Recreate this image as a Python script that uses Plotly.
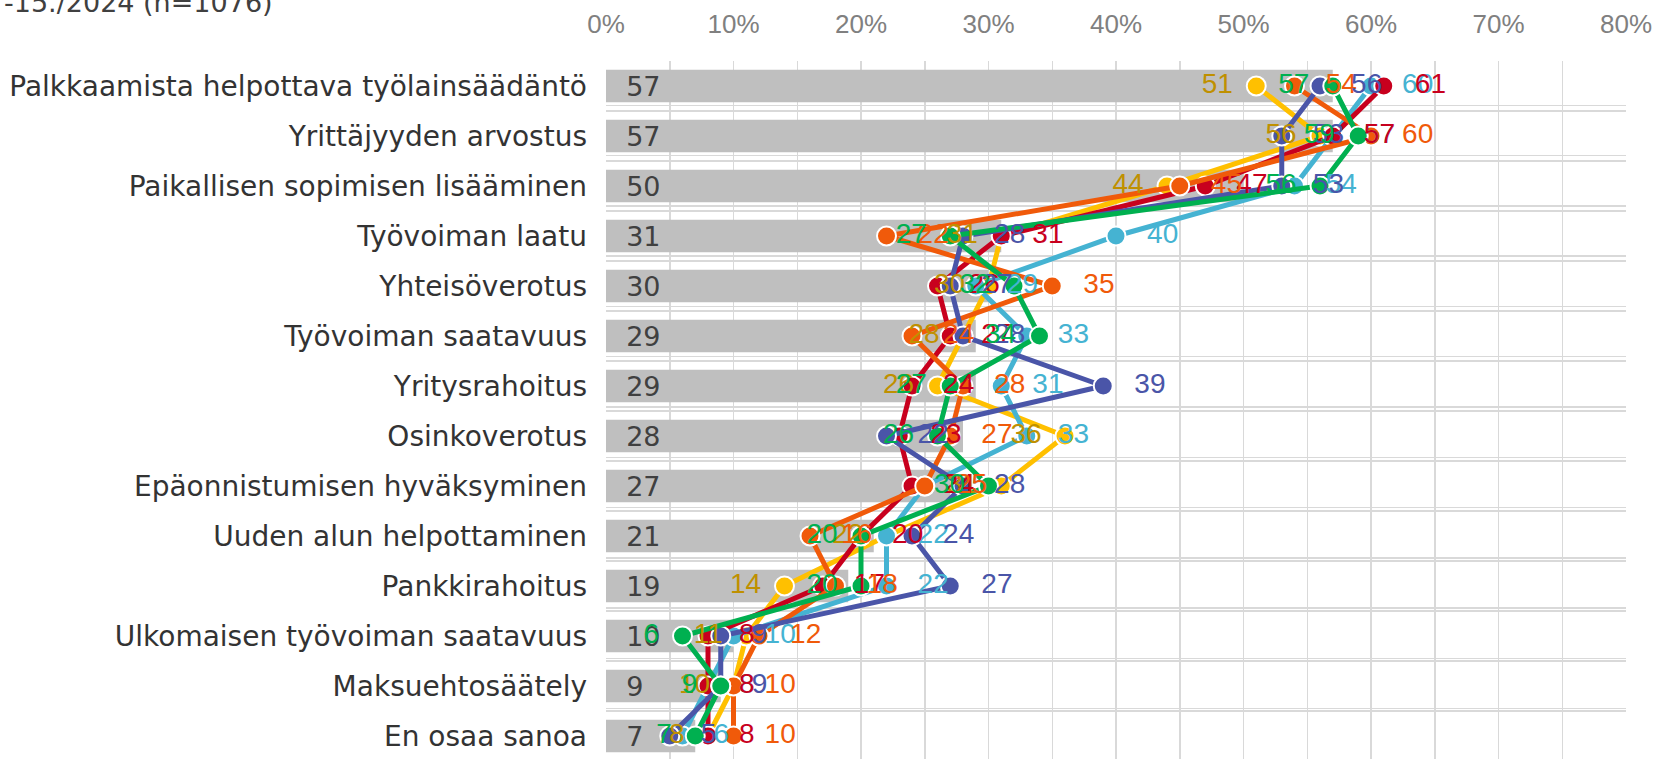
import plotly.graph_objects as go

categories = [
    "Palkkaamista helpottava työlainsäädäntö",
    "Yrittäjyyden arvostus",
    "Paikallisen sopimisen lisääminen",
    "Työvoiman laatu",
    "Yhteisöverotus",
    "Työvoiman saatavuus",
    "Yritysrahoitus",
    "Osinkoverotus",
    "Epäonnistumisen hyväksyminen",
    "Uuden alun helpottaminen",
    "Pankkirahoitus",
    "Ulkomaisen työvoiman saatavuus",
    "Maksuehtosäätely",
    "En osaa sanoa",
]

bar_values = [57, 57, 50, 31, 30, 29, 29, 28, 27, 21, 19, 10, 9, 7]

series_yellow = [51, 56, 44, 31, 30, 28, 26, 36, 31, 22, 14, 11, 10, 8]
series_cyan   = [60, 57, 54, 40, 29, 33, 31, 33, 25, 22, 22, 10, 8, 6]
series_red    = [61, 57, 47, 31, 26, 27, 24, 23, 24, 20, 17, 8, 8, 8]
series_orange = [54, 60, 45, 22, 35, 24, 28, 27, 25, 16, 18, 12, 10, 10]
series_blue   = [56, 53, 53, 28, 27, 28, 39, 22, 28, 24, 27, 9, 9, 5]
series_green  = [57, 59, 56, 27, 32, 34, 27, 26, 30, 20, 20, 6, 9, 7]

title_text = "-15./2024 (n=1076)"

idx = list(range(len(categories)))

# name, values, line colour, label colour, label side
series = [
    ("s1", series_yellow, "#FFC000", "#BF9000", "left"),
    ("s2", series_cyan, "#45B3D2", "#45B3D2", "right"),
    ("s3", series_red, "#C8001E", "#C8001E", "right"),
    ("s4", series_orange, "#F05A0A", "#F05A0A", "right"),
    ("s5", series_blue, "#4A55A8", "#4A55A8", "right"),
    ("s6", series_green, "#00B050", "#00B050", "left"),
]

fig = go.Figure()

fig.add_trace(go.Bar(
    x=bar_values, y=idx, orientation="h",
    marker=dict(color="#BFBFBF", line=dict(width=0)),
    width=0.65,
    text=["\u00a0\u00a0" + str(v) for v in bar_values],
    textposition="inside", insidetextanchor="start", constraintext="none",
    textangle=0,
    textfont=dict(family="DejaVu Sans", size=27, color="#404040"),
    showlegend=False, hoverinfo="skip",
))

for name, vals, col, lcol, side in series:
    fig.add_trace(go.Scatter(
        x=vals, y=idx, mode="lines+markers", name=name,
        line=dict(color=col, width=5),
        marker=dict(size=19, color=col, line=dict(color="white", width=2)),
        showlegend=False, hoverinfo="skip",
    ))

for name, vals, col, lcol, side in series:
    if side == "left":
        txt = [str(v) + "\u00a0" * 3 for v in vals]
        pos = "middle left"
    else:
        txt = ["\u00a0" * 4 + str(v) for v in vals]
        pos = "middle right"
    fig.add_trace(go.Scatter(
        x=vals, y=idx, mode="text", text=txt, textposition=pos,
        textfont=dict(family="Liberation Sans", size=28, color=lcol),
        showlegend=False, hoverinfo="skip",
    ))

n = len(categories)
grid_main = [k - 0.5 for k in range(n + 1)]
grid_second = [k - 0.5 - (0.12 - 0.08 * k / n) for k in range(1, n + 1)]

fig.update_layout(
    width=1660, height=759,
    margin=dict(l=606, r=34, t=61, b=0),
    paper_bgcolor="white", plot_bgcolor="white",
    barmode="overlay",
    xaxis=dict(
        side="top", range=[0, 80], dtick=10, ticksuffix="%",
        showgrid=True, gridcolor="#D9D9D9", gridwidth=1.5, zeroline=False,
        tickfont=dict(family="Liberation Sans", size=26, color="#808080"),
        ticks="", ticklabelstandoff=22, automargin=False,
        minor=dict(dtick=5, showgrid=True, gridcolor="#D9D9D9", gridwidth=1.5),
        fixedrange=True,
    ),
    yaxis=dict(
        range=[n - 0.5 - 0.04, -0.5],
        tickmode="array", tickvals=idx, ticktext=categories,
        showgrid=False, zeroline=False, ticks="", automargin=False,
        tickfont=dict(family="DejaVu Sans", size=28, color="#333333"),
        ticklabelstandoff=18,
        minor=dict(tickmode="array", tickvals=grid_main + grid_second,
                   showgrid=True, gridcolor="#D9D9D9", gridwidth=1.5, ticks=""),
        fixedrange=True,
    ),
    annotations=[dict(
        text=title_text, xref="paper", yref="paper", x=-604 / 1020, y=1 + 59 / 698,
        xanchor="left", yanchor="middle", showarrow=False,
        font=dict(family="DejaVu Sans", size=27, color="#404040"),
    )],
)

fig.write_html(
    "out.html",
    config={"displayModeBar": False, "staticPlot": True},
    post_script="document.body.style.margin='0px';document.body.style.overflow='hidden';",
)
